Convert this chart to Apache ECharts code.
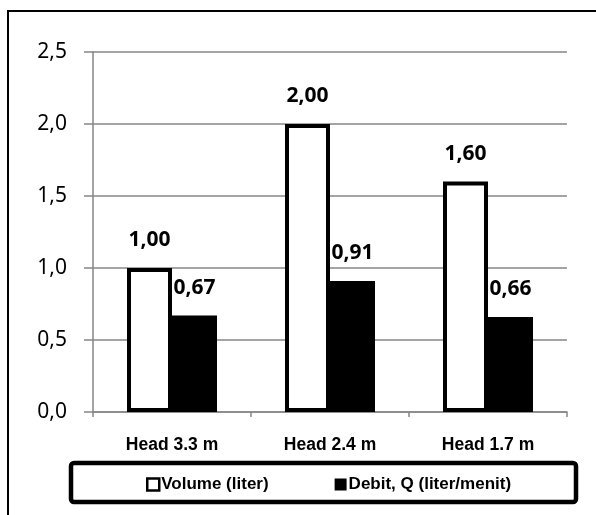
<!DOCTYPE html>
<html>
<head>
<meta charset="utf-8">
<script src="https://cdn.jsdelivr.net/npm/echarts@6/dist/echarts.min.js"></script>
<style>
  html, body { margin: 0; padding: 0; background: #fff; }
  #chart { width: 596px; height: 515px; }
</style>
</head>
<body>
<div id="chart"></div>
<script>
// Head levels and measured values
const categories = ['Head 3.3 m', 'Head 2.4 m', 'Head 1.7 m'];
const volumeLiter = [1.00, 2.00, 1.60];
const debitLiterPerMin = [0.67, 0.91, 0.66];
const seriesNames = ['Volume (liter)', 'Debit, Q (liter/menit)'];

const comma = (v, d) => Number(v).toFixed(d).replace('.', ',');
const boldSans = '"Liberation Sans Narrow", "Arial Narrow", "Liberation Sans", sans-serif';
const valueFont = '"Noto Sans", "Liberation Sans", sans-serif';

const chart = echarts.init(document.getElementById('chart'), null, { renderer: 'canvas' });

const barLabel = {
  show: true,
  position: 'top',
  distance: 17,
  formatter: p => comma(p.value, 2),
  color: '#000',
  fontFamily: valueFont,
  fontWeight: 'bold',
  fontSize: 21
};

chart.setOption({
  backgroundColor: '#fff',
  animation: false,
  grid: { left: 93, right: 29, top: 52, bottom: 103 },
  graphic: [
    {
      // outer chart frame
      type: 'rect', silent: true, z: 0,
      shape: { x: 8, y: 11, width: 700, height: 600 },
      style: { fill: 'none', stroke: '#000', lineWidth: 2 }
    },
    {
      // legend frame
      type: 'rect', silent: true, z: 0,
      shape: { x: 71, y: 463, width: 505, height: 39, r: 3 },
      style: { fill: '#fff', stroke: '#000', lineWidth: 4.5 }
    }
  ],
  legend: {
    left: 141,
    top: 471,
    itemGap: 66,
    itemWidth: 12,
    itemHeight: 12,
    icon: 'rect',
    textStyle: { color: '#000', fontFamily: boldSans, fontWeight: 'bold', fontSize: 17, padding: [0, 0, 0, -3] },
    data: [
      { name: seriesNames[0], itemStyle: { color: '#fff', borderColor: '#000', borderWidth: 2.5 } },
      { name: seriesNames[1], itemStyle: { color: '#000' } }
    ]
  },
  xAxis: {
    type: 'category',
    data: categories,
    axisLine: { show: true, lineStyle: { color: '#868686', width: 1.5 } },
    axisTick: { show: true, length: 5, lineStyle: { color: '#868686', width: 1.5 } },
    axisLabel: { color: '#000', fontFamily: boldSans, fontWeight: 'bold', fontSize: 17.5, margin: 24 },
    splitLine: { show: false }
  },
  yAxis: {
    type: 'value',
    min: 0,
    max: 2.5,
    interval: 0.5,
    axisLine: { show: true, lineStyle: { color: '#868686', width: 1.5 } },
    axisTick: { show: true, length: 9, lineStyle: { color: '#868686', width: 1.5 } },
    axisLabel: { color: '#000', fontFamily: valueFont, fontSize: 21, margin: 26, formatter: v => comma(v, 1) },
    splitLine: { show: true, lineStyle: { color: '#868686', width: 1.5 } }
  },
  series: [
    {
      name: seriesNames[0],
      type: 'bar',
      data: volumeLiter,
      barWidth: 45,
      barGap: '0%',
      itemStyle: { color: '#fff', borderColor: '#000', borderWidth: 4 },
      label: barLabel
    },
    {
      name: seriesNames[1],
      type: 'bar',
      data: debitLiterPerMin,
      barWidth: 45,
      barGap: '0%',
      itemStyle: { color: '#000' },
      label: barLabel
    }
  ]
});
</script>
</body>
</html>
